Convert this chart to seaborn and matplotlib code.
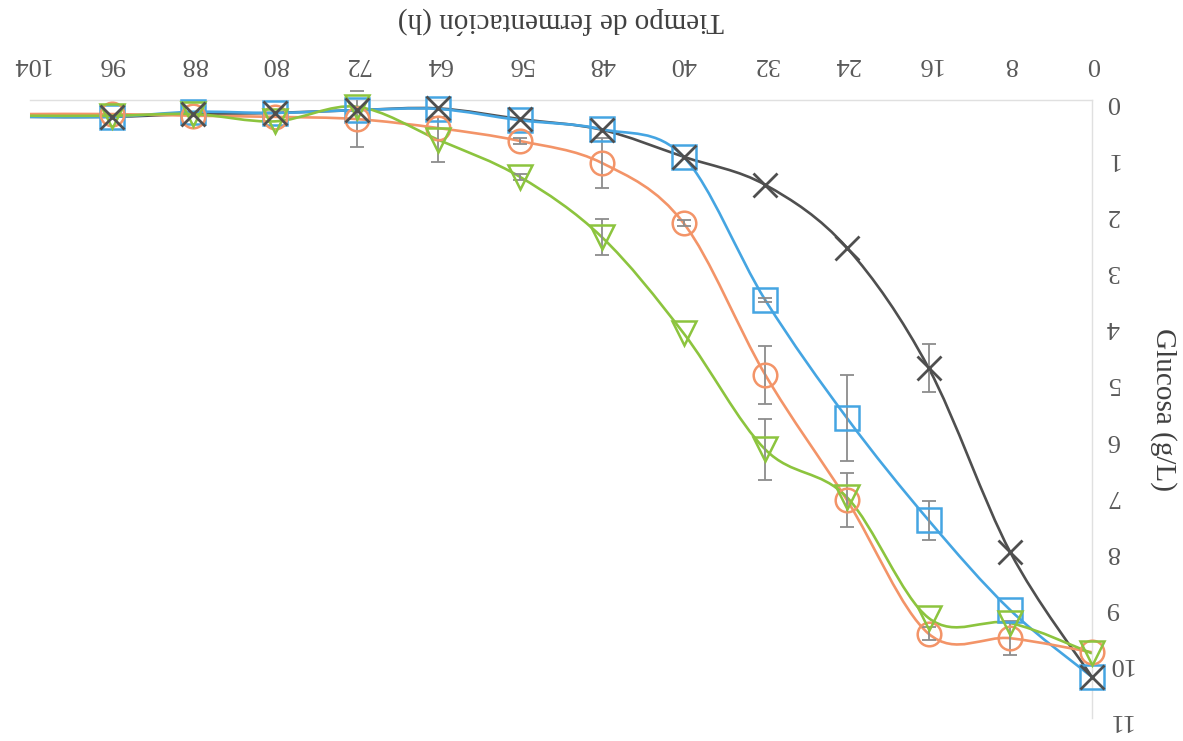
import numpy as np
import pandas as pd
import matplotlib
matplotlib.use("Agg")
import matplotlib.pyplot as plt
import seaborn as sns
from matplotlib.path import Path
from matplotlib.patches import PathPatch

# ---------------- data ----------------
tiempo = [0, 8, 16, 24, 32, 40, 48, 56, 64, 72, 80, 88, 96, 104]
x_ticks = [0, 8, 16, 24, 32, 40, 48, 56, 64, 72, 80, 88, 96, 104]
y_ticks = [0, 1, 2, 3, 4, 5, 6, 7, 8, 9, 10, 11]

gris = [10.27, 8.05, 4.77, 2.63, 1.51, 1.01, 0.53, 0.34, 0.15, 0.18, 0.23, 0.25, 0.30, 0.30]
azul = [10.27, 9.08, 7.48, 5.66, 3.56, 1.01, 0.52, 0.36, 0.16, 0.18, 0.23, 0.21, 0.30, 0.30]
naranja = [9.83, 9.58, 9.50, 7.12, 4.89, 2.19, 1.12, 0.73, 0.50, 0.34, 0.30, 0.28, 0.25, 0.25]
verde = [9.85, 9.31, 9.22, 7.07, 6.22, 4.15, 2.44, 1.37, 0.71, 0.12, 0.38, 0.25, 0.28, 0.28]

err_gris = [0, 0, 0.43, 0, 0, 0, 0, 0, 0, 0, 0, 0, 0, 0]
err_azul = [0, 0, 0.35, 0.77, 0.03, 0, 0, 0, 0, 0, 0, 0, 0, 0]
err_naranja = [0, 0.30, 0.12, 0.48, 0.52, 0.06, 0.44, 0.05, 0, 0.50, 0, 0, 0, 0]
err_verde = [0, 0, 0, 0, 0.55, 0, 0.32, 0.05, 0.40, 0, 0, 0, 0, 0]

x_label = "Tiempo de fermentación (h)"
y_label = "Glucosa (g/L)"

series = [
    ("gris", gris, err_gris, "#4f4f4f", "x"),
    ("azul", azul, err_azul, "#45a5e2", "s"),
    ("naranja", naranja, err_naranja, "#f39468", "o"),
    ("verde", verde, err_verde, "#8cc43e", "v"),
]

# ---------------- style ----------------
sns.set_theme(style="white")
plt.rcParams["font.family"] = ["Liberation Serif", "DejaVu Serif"]

W, H = 1183, 741
fig = plt.figure(figsize=(W / 100, H / 100), dpi=100)
fig.patch.set_facecolor("white")
ax = fig.add_axes([30 / W, 1 - 718 / H, 1062 / W, 618 / H])
ax.set_facecolor("white")


def smooth_path(xs, ys):
    pts = np.column_stack([xs, ys]).astype(float)
    n = len(pts)
    verts = [pts[0]]
    codes = [Path.MOVETO]
    for i in range(n - 1):
        p0 = pts[i - 1] if i > 0 else pts[i]
        p1 = pts[i]
        p2 = pts[i + 1]
        p3 = pts[i + 2] if i + 2 < n else pts[i + 1]
        c1 = p1 + (p2 - p0) / 6.0
        c2 = p2 - (p3 - p1) / 6.0
        verts += [c1, c2, p2]
        codes += [Path.CURVE4] * 3
    return Path(verts, codes)


# smooth lines
for name, vals, errs, col, mk in series:
    patch = PathPatch(smooth_path(tiempo, vals), fill=False, edgecolor=col,
                      lw=1.9, zorder=2, clip_on=False)
    ax.add_patch(patch)

# error bars
for name, vals, errs, col, mk in series:
    idx = [i for i, e in enumerate(errs) if e > 0]
    if idx:
        ax.errorbar([tiempo[i] for i in idx], [vals[i] for i in idx],
                    yerr=[errs[i] for i in idx], fmt="none", ecolor="#8c8c8c",
                    elinewidth=1.3, capsize=5, capthick=1.3, zorder=3)

# markers (seaborn)
for name, vals, errs, col, mk in series:
    df = pd.DataFrame({"t": tiempo[:-1], "g": vals[:-1]})
    if mk == "x":
        sns.lineplot(data=df, x="t", y="g", ax=ax, linestyle="", marker="x",
                     markersize=17, markeredgewidth=2.0, markeredgecolor=col,
                     color=col, zorder=5)
    else:
        sns.lineplot(data=df, x="t", y="g", ax=ax, linestyle="", marker=mk,
                     markersize=17, markeredgewidth=1.8, markerfacecolor="none",
                     markeredgecolor=col, color=col, zorder=4)

for ln in ax.lines:
    ln.set_clip_on(False)

ax.set_xlim(104, 0)
ax.set_ylim(11, 0)
ax.set_xticks(x_ticks)
ax.set_yticks(y_ticks)

ax.xaxis.set_ticks_position("top")
ax.yaxis.set_ticks_position("right")
ax.tick_params(axis="x", length=0, pad=18, labelsize=19, labelcolor="#595959",
               labelrotation=180)
ax.tick_params(axis="y", length=0, pad=10, labelsize=19, labelcolor="#595959",
               labelrotation=180)

ax.set_xlabel(x_label, fontsize=21, color="#404040", rotation=180)
ax.xaxis.set_label_position("top")
ax.xaxis.set_label_coords(0.5, 1 + 72 / 618)
ax.set_ylabel(y_label, fontsize=21, color="#404040", rotation=270, va="center")
ax.yaxis.set_label_position("right")
ax.yaxis.set_label_coords((1177 - 30) / 1062, 0.5)

for s in ["left", "bottom"]:
    ax.spines[s].set_visible(False)
for s in ["top", "right"]:
    ax.spines[s].set_visible(True)
    ax.spines[s].set_color("#e0e0e0")
    ax.spines[s].set_linewidth(1.0)

fig.savefig("out.png", dpi=100, facecolor="white")
